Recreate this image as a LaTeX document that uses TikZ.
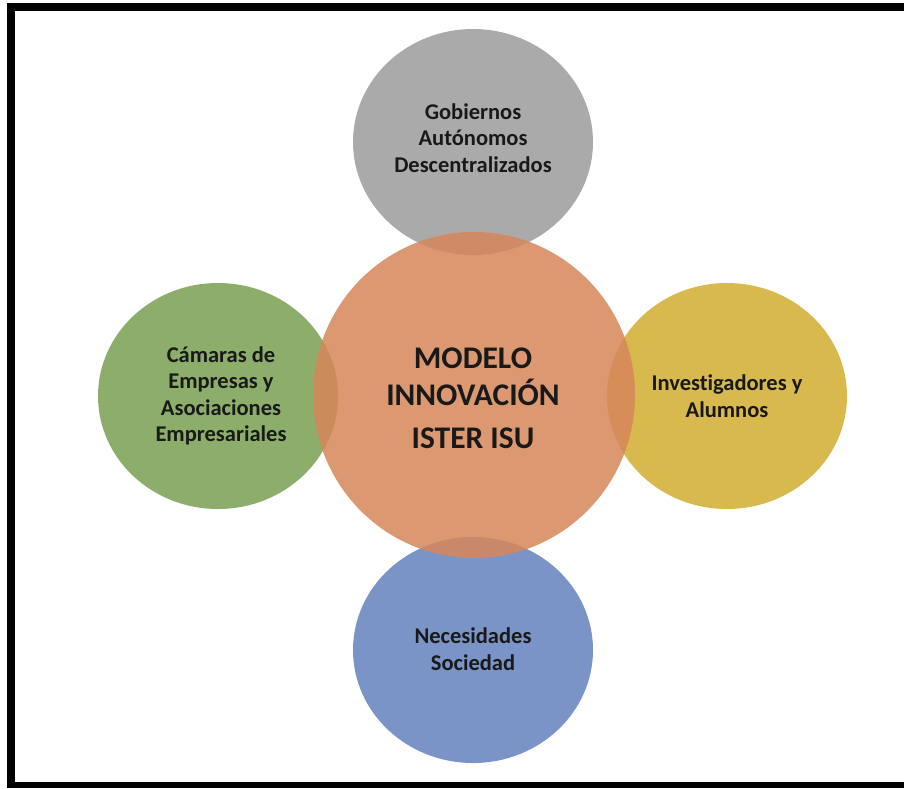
\documentclass[tikz,border=0pt]{standalone}
\usepackage{fontspec}
\setmainfont[Ligatures=NoCommon]{Carlito}
\usetikzlibrary{shapes.geometric}
\definecolor{cgray}{RGB}{156,156,156}
\definecolor{corange}{RGB}{214,134,89}
\definecolor{cgreen}{RGB}{122,160,82}
\definecolor{cyellow}{RGB}{209,173,48}
\definecolor{cblue}{RGB}{99,130,190}
\tikzset{
  sat/.style={ellipse, draw=none, fill opacity=0.85, minimum width=240pt, minimum height=226pt, inner sep=0pt},
  hub/.style={ellipse, draw=none, fill opacity=0.85, minimum width=322pt, minimum height=326pt, inner sep=0pt},
  lbl/.style={align=center, font=\fontsize{22.5}{26.5}\selectfont\bfseries, text=black!90, inner sep=0pt},
  hublbl/.style={align=center, font=\fontsize{31.5}{37}\selectfont\bfseries, text=black!90, inner sep=0pt}
}
\begin{document}
\begin{tikzpicture}[x=1pt,y=-1pt]
\useasboundingbox (0,0) rectangle (904,788);
\fill[white] (-20,-20) rectangle (930,810);
\fill[black] (7,3) rectangle (904,11);
\fill[black] (7,3) rectangle (15,788);
\fill[black] (7,782) rectangle (904,788);
\node[sat, fill=cgray] (gob) at (473,142) {};
\node[sat, fill=cgreen] (cam) at (218,396) {};
\node[sat, fill=cyellow] (inv) at (727,396) {};
\node[sat, fill=cblue] (nec) at (473,650) {};
\node[hub, fill=corange] (mod) at (474,395) {};
\node[lbl] (tgob) at (473,138) {Gobiernos\\Autónomos\\Descentralizados};
\node[lbl] (tcam) at (221,396) {Cámaras de\\Empresas y\\Asociaciones\\Empresariales};
\node[lbl] (tinv) at (727,396) {Investigadores y\\Alumnos};
\node[lbl] (tnec) at (473,649) {Necesidades\\Sociedad};
\node[hublbl] (tmod) at (473,398) {MODELO\\INNOVACIÓN\\[6pt]ISTER ISU};
\end{tikzpicture}
\end{document}
